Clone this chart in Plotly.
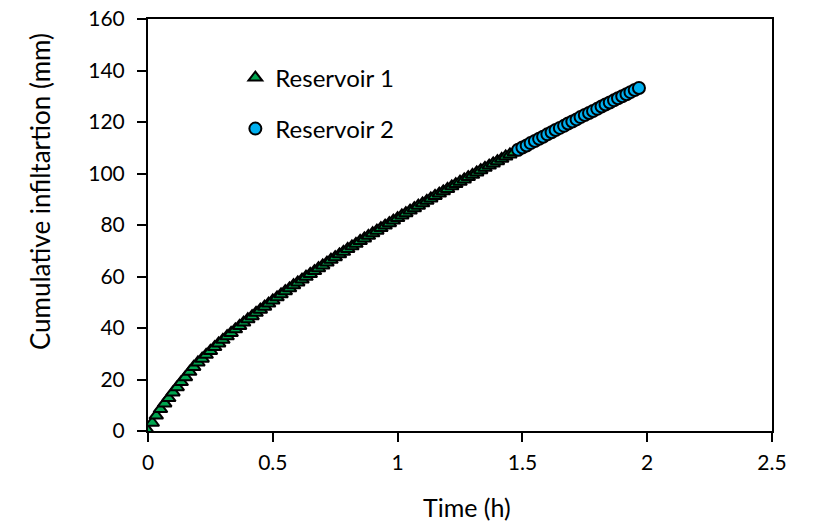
import plotly.graph_objects as go

# Reservoir 1 (time in hours, cumulative infiltration in mm)
time_r1 = [0.000, 0.017, 0.033, 0.050, 0.067, 0.083, 0.100, 0.117, 0.133, 0.150,
           0.167, 0.183, 0.200, 0.217, 0.233, 0.250, 0.267, 0.283, 0.300, 0.317,
           0.333, 0.350, 0.367, 0.383, 0.400, 0.417, 0.433, 0.450, 0.467, 0.483,
           0.500, 0.517, 0.533, 0.550, 0.567, 0.583, 0.600, 0.617, 0.633, 0.650,
           0.667, 0.683, 0.700, 0.717, 0.733, 0.750, 0.767, 0.783, 0.800, 0.817,
           0.833, 0.850, 0.867, 0.883, 0.900, 0.917, 0.933, 0.950, 0.967, 0.983,
           1.000, 1.017, 1.033, 1.050, 1.067, 1.083, 1.100, 1.117, 1.133, 1.150,
           1.167, 1.183, 1.200, 1.217, 1.233, 1.250, 1.267, 1.283, 1.300, 1.317,
           1.333, 1.350, 1.367, 1.383, 1.400, 1.417, 1.433, 1.450, 1.467]
infil_r1 = [0.0, 3.2, 6.0, 8.5, 10.7, 12.8, 15.0, 17.0, 19.0, 20.9,
            23.0, 24.9, 26.6, 28.1, 29.6, 31.1, 32.6, 34.0, 35.4, 36.8,
            38.1, 39.5, 40.8, 42.1, 43.4, 44.6, 45.9, 47.1, 48.3, 49.5,
            50.7, 51.9, 53.1, 54.3, 55.4, 56.6, 57.7, 58.8, 59.9, 61.0,
            62.1, 63.2, 64.3, 65.4, 66.5, 67.5, 68.6, 69.6, 70.7, 71.7,
            72.7, 73.8, 74.8, 75.8, 76.8, 77.8, 78.8, 79.8, 80.7, 81.7,
            82.7, 83.7, 84.6, 85.6, 86.5, 87.5, 88.4, 89.4, 90.3, 91.3,
            92.2, 93.1, 94.0, 95.0, 95.9, 96.8, 97.7, 98.6, 99.5, 100.4,
            101.3, 102.2, 103.1, 103.9, 104.8, 105.7, 106.6, 107.4, 108.3]

# Reservoir 2
time_r2 = [1.483, 1.500, 1.517, 1.533, 1.550, 1.567, 1.583, 1.600, 1.617, 1.633,
           1.650, 1.667, 1.683, 1.700, 1.717, 1.733, 1.750, 1.767, 1.783, 1.800,
           1.817, 1.833, 1.850, 1.867, 1.883, 1.900, 1.917, 1.933, 1.950, 1.967]
infil_r2 = [109.2, 110.1, 110.9, 111.8, 112.6, 113.5, 114.3, 115.2, 116.0, 116.9,
            117.7, 118.5, 119.4, 120.2, 121.0, 121.9, 122.7, 123.5, 124.3, 125.1,
            126.0, 126.8, 127.6, 128.4, 129.2, 130.0, 130.8, 131.6, 132.4, 133.2]

x_ticks = [0, 0.5, 1, 1.5, 2, 2.5]
x_tick_labels = ["0", "0.5", "1", "1.5", "2", "2.5"]
y_ticks = [0, 20, 40, 60, 80, 100, 120, 140, 160]

FONT = "Lato"

fig = go.Figure()
fig.add_trace(go.Scatter(
    x=time_r1, y=infil_r1, mode="markers", name="Reservoir 1",
    marker=dict(symbol="triangle-up", size=12, color="#00A54F",
                line=dict(color="black", width=2)),
    legend="legend"))
fig.add_trace(go.Scatter(
    x=time_r2, y=infil_r2, mode="markers", name="Reservoir 2",
    marker=dict(symbol="circle", size=12, color="#00B0F0",
                line=dict(color="black", width=2)),
    legend="legend2"))

axis_common = dict(showgrid=False, zeroline=False, showline=True, linecolor="black",
                   linewidth=2, ticks="outside", ticklen=9, tickwidth=2,
                   tickcolor="black", automargin=False, mirror=True,
                   tickfont=dict(family=FONT, size=21, color="black"))

fig.update_layout(
    width=815, height=521,
    margin=dict(l=148, r=43, t=19, b=90),
    paper_bgcolor="white", plot_bgcolor="white",
    font=dict(family=FONT, size=21, color="black"),
    showlegend=True,
    legend=dict(x=0.14, y=0.857, xanchor="left", yanchor="middle",
                bgcolor="rgba(0,0,0,0)", font=dict(family=FONT, size=24)),
    legend2=dict(x=0.14, y=0.733, xanchor="left", yanchor="middle",
                 bgcolor="rgba(0,0,0,0)", font=dict(family=FONT, size=24)),
    xaxis=dict(range=[0, 2.5], tickvals=x_ticks, ticktext=x_tick_labels,
               ticklabelstandoff=3, **axis_common),
    yaxis=dict(range=[0, 160], tickvals=y_ticks, ticklabelstandoff=8, **axis_common),
    annotations=[
        dict(text="Time (h)", xref="paper", yref="paper", x=0.511, y=-0.185,
             xanchor="center", yanchor="middle", showarrow=False,
             font=dict(family=FONT, size=25, color="black")),
        dict(text="Cumulative infiltartion (mm)", xref="paper", yref="paper",
             x=-0.173, y=0.58, xanchor="center", yanchor="middle", textangle=-90,
             showarrow=False, font=dict(family=FONT, size=26, color="black")),
    ],
)

fig.write_html("out.html", config={"displayModeBar": False},
               post_script="document.body.style.margin='0px';")
